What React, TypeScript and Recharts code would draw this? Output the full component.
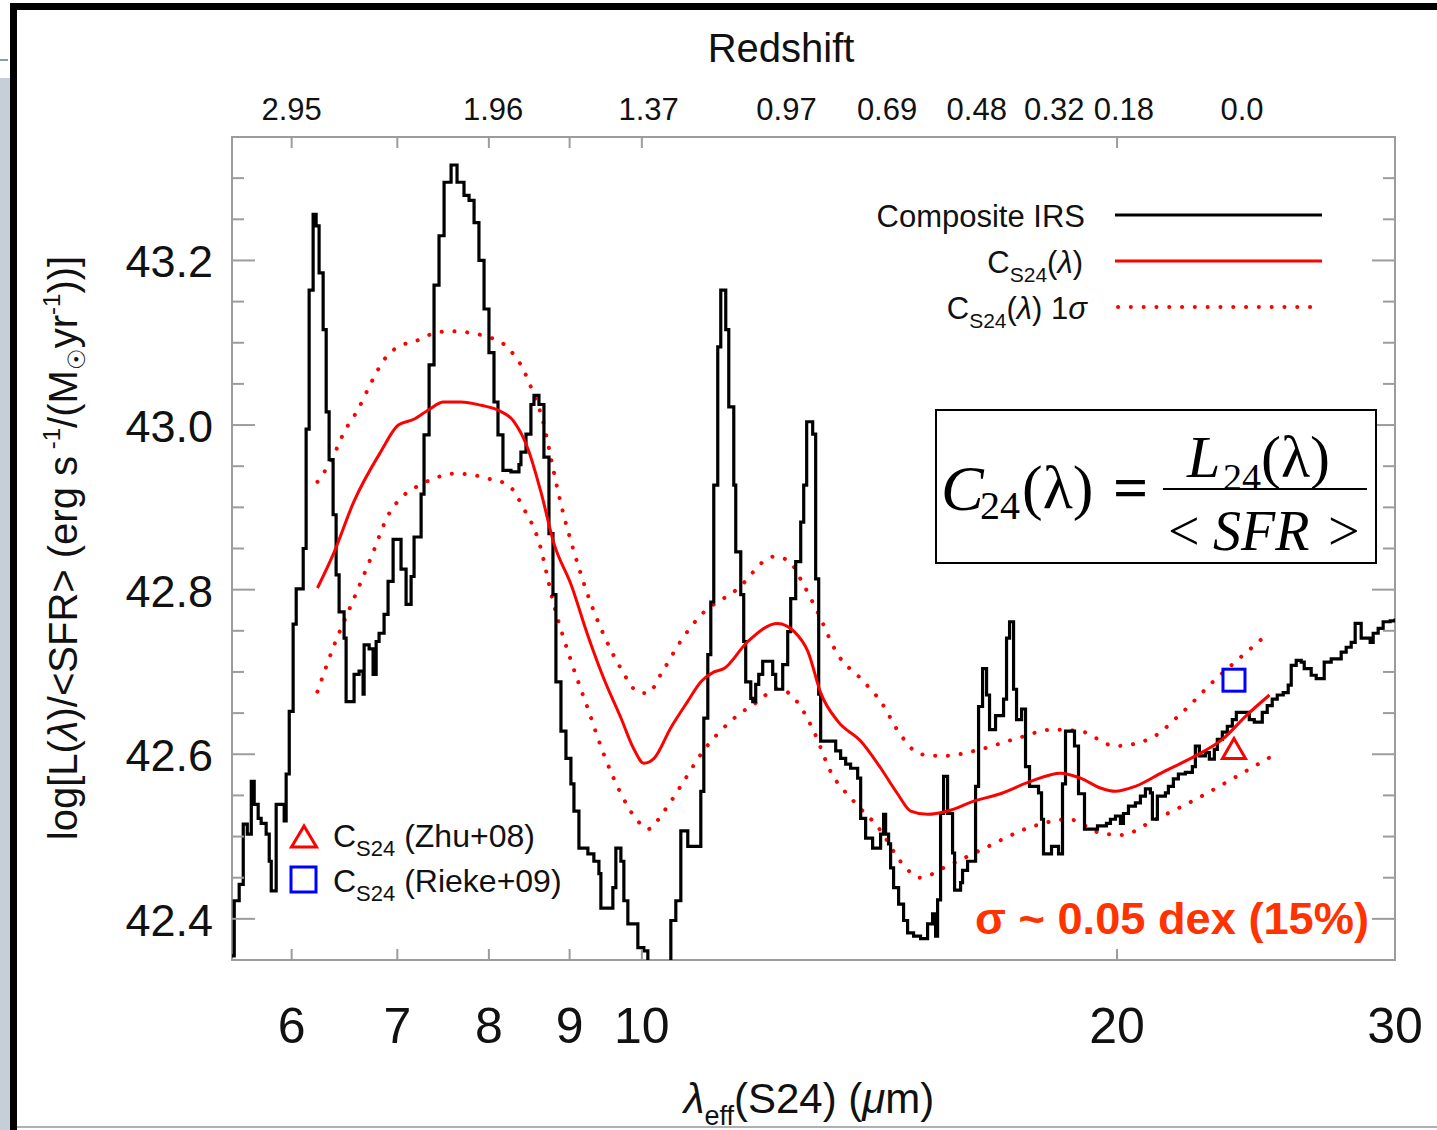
import React from 'react';
import { ComposedChart, Line, XAxis, YAxis, Scatter, ReferenceArea } from 'recharts';

// ---------- data ----------
const compositeIRS: [number, number][] = [
  [5.5, 42.355], [5.518, 42.422], [5.558, 42.442], [5.591, 42.515], [5.624, 42.503], [5.657, 42.567], [5.681, 42.539],
  [5.714, 42.522], [5.739, 42.516], [5.781, 42.503], [5.807, 42.47], [5.824, 42.434], [5.866, 42.539], [5.935, 42.519],
  [5.952, 42.576], [5.979, 42.652], [6.013, 42.758], [6.04, 42.801], [6.102, 42.85], [6.128, 42.995], [6.155, 43.164],
  [6.191, 43.256], [6.218, 43.242], [6.245, 43.185], [6.282, 43.116], [6.31, 43.016], [6.337, 42.958], [6.374, 42.891],
  [6.402, 42.818], [6.43, 42.773], [6.477, 42.741], [6.496, 42.664], [6.572, 42.697], [6.62, 42.701], [6.659, 42.673],
  [6.669, 42.733], [6.718, 42.728], [6.757, 42.697], [6.787, 42.737], [6.816, 42.747], [6.866, 42.77], [6.906, 42.81],
  [6.957, 42.861], [7.038, 42.825], [7.09, 42.782], [7.142, 42.816], [7.173, 42.864], [7.247, 42.916], [7.278, 42.988],
  [7.332, 43.073], [7.385, 43.17], [7.439, 43.23], [7.494, 43.295], [7.571, 43.316], [7.637, 43.295], [7.715, 43.279],
  [7.772, 43.273], [7.829, 43.246], [7.885, 43.2], [7.944, 43.141], [8.001, 43.088], [8.06, 43.028], [8.107, 42.988],
  [8.166, 42.945], [8.262, 42.943], [8.359, 42.952], [8.383, 42.967], [8.445, 42.989], [8.506, 43.025], [8.544, 43.036],
  [8.606, 43.025], [8.669, 42.961], [8.733, 42.868], [8.784, 42.794], [8.822, 42.688], [8.887, 42.628], [8.952, 42.595],
  [9.017, 42.564], [9.057, 42.531], [9.123, 42.486], [9.243, 42.479], [9.324, 42.47], [9.393, 42.455], [9.42, 42.413],
  [9.586, 42.438], [9.628, 42.486], [9.699, 42.47], [9.741, 42.422], [9.798, 42.394], [9.942, 42.365], [10.029, 42.361],
  [10.088, 42.337], [10.432, 42.398], [10.508, 42.422], [10.585, 42.507], [10.693, 42.488], [10.898, 42.555], [10.946, 42.644],
  [11.01, 42.721], [11.058, 42.785], [11.106, 42.927], [11.171, 43.095], [11.22, 43.164], [11.302, 43.116], [11.352, 43.022],
  [11.435, 42.927], [11.468, 42.846], [11.552, 42.794], [11.602, 42.737], [11.636, 42.688], [11.722, 42.668], [11.756, 42.664],
  [11.807, 42.685], [11.859, 42.697], [11.928, 42.713], [12.103, 42.697], [12.156, 42.679], [12.281, 42.709], [12.371, 42.749],
  [12.425, 42.789], [12.516, 42.834], [12.608, 42.882], [12.663, 42.927], [12.718, 43.004], [12.83, 42.989], [12.886, 42.813],
  [12.943, 42.673], [12.98, 42.616], [13.268, 42.604], [13.364, 42.595], [13.462, 42.588], [13.56, 42.583], [13.7, 42.571],
  [13.76, 42.522], [13.86, 42.498], [14.002, 42.486], [14.166, 42.503], [14.228, 42.527], [14.27, 42.503], [14.332, 42.491],
  [14.374, 42.462], [14.437, 42.438], [14.543, 42.418], [14.649, 42.398], [14.735, 42.383], [14.864, 42.379], [15.017, 42.376],
  [15.171, 42.394], [15.282, 42.406], [15.349, 42.379], [15.394, 42.423], [15.461, 42.528], [15.529, 42.573], [15.62, 42.528],
  [15.734, 42.48], [15.78, 42.435], [15.919, 42.444], [15.965, 42.459], [16.082, 42.47], [16.271, 42.561], [16.342, 42.658],
  [16.438, 42.704], [16.534, 42.672], [16.606, 42.63], [16.752, 42.647], [16.949, 42.667], [17.023, 42.741], [17.098, 42.761],
  [17.198, 42.679], [17.273, 42.642], [17.4, 42.655], [17.501, 42.585], [17.603, 42.561], [17.836, 42.553], [17.914, 42.521],
  [17.966, 42.479], [18.177, 42.488], [18.364, 42.479], [18.471, 42.564], [18.552, 42.628], [18.797, 42.61], [18.907, 42.552],
  [19.073, 42.509], [19.438, 42.513], [19.694, 42.516], [19.809, 42.521], [19.954, 42.525], [20.1, 42.516], [20.188, 42.528],
  [20.336, 42.537], [20.544, 42.541], [20.694, 42.549], [20.846, 42.558], [20.998, 42.553], [21.059, 42.521], [21.213, 42.549],
  [21.462, 42.553], [21.556, 42.561], [21.713, 42.57], [21.872, 42.576], [22.096, 42.578], [22.323, 42.585], [22.421, 42.61],
  [22.552, 42.598], [22.75, 42.602], [22.883, 42.594], [23.05, 42.606], [23.151, 42.618], [23.32, 42.627], [23.491, 42.634],
  [23.663, 42.642], [23.801, 42.651], [24.256, 42.642], [24.433, 42.639], [24.72, 42.651], [24.899, 42.659], [25.081, 42.667],
  [25.265, 42.672], [25.487, 42.675], [25.673, 42.684], [25.786, 42.708], [25.974, 42.714], [26.164, 42.712], [26.279, 42.704],
  [26.548, 42.696], [26.743, 42.692], [27.057, 42.712], [27.334, 42.716], [27.735, 42.724], [27.938, 42.73], [28.143, 42.736],
  [28.307, 42.759], [28.556, 42.741], [28.933, 42.736], [29.06, 42.747], [29.272, 42.753], [29.486, 42.761], [29.789, 42.762],
  [30, 42.765],
];

const cS24: [number, number][] = [
  [6.23, 42.802], [6.385, 42.846], [6.57, 42.907], [6.83, 42.967], [7.01, 43.0], [7.17, 43.007], [7.32, 43.018],
  [7.49, 43.028], [7.68, 43.028], [7.91, 43.024], [8.11, 43.018], [8.3, 43.004], [8.47, 42.971], [8.63, 42.919],
  [8.8, 42.855], [9.02, 42.806], [9.24, 42.745], [9.46, 42.692], [9.7, 42.644], [9.88, 42.607], [10.03, 42.589],
  [10.18, 42.595], [10.43, 42.632], [10.69, 42.664], [10.9, 42.688], [11.11, 42.7], [11.27, 42.704], [11.67, 42.737],
  [12.19, 42.759], [12.49, 42.749], [12.74, 42.725], [12.99, 42.673], [13.31, 42.64], [13.76, 42.616], [14.17, 42.583],
  [14.52, 42.552], [14.8, 42.531], [15.17, 42.527], [15.62, 42.531], [16.23, 42.543], [16.87, 42.552], [17.63, 42.567],
  [18.42, 42.577], [18.96, 42.571], [19.52, 42.559], [19.95, 42.555], [20.54, 42.561], [21.37, 42.578], [22.42, 42.598],
  [23.32, 42.618], [24.15, 42.647], [24.98, 42.672],
];

const cS24Upper: [number, number][] = [
  [6.23, 42.931], [6.36, 42.958], [6.48, 42.992], [6.61, 43.019], [6.74, 43.052], [6.87, 43.08], [7.04, 43.097],
  [7.17, 43.101], [7.32, 43.109], [7.54, 43.114], [7.72, 43.113], [7.99, 43.107], [8.14, 43.101], [8.26, 43.09],
  [8.41, 43.068], [8.53, 43.04], [8.67, 43.0], [8.76, 42.959], [8.85, 42.919], [8.93, 42.888], [9.02, 42.858],
  [9.24, 42.794], [9.46, 42.745], [9.7, 42.704], [9.94, 42.676], [10.09, 42.674], [10.28, 42.697], [10.58, 42.737],
  [10.85, 42.765], [11.5, 42.801], [12.12, 42.84], [12.37, 42.836], [12.66, 42.806], [12.92, 42.773], [13.31, 42.721],
  [13.76, 42.692], [14.17, 42.664], [14.58, 42.624], [15.02, 42.6], [15.53, 42.598], [16.39, 42.606], [17.2, 42.618],
  [18.23, 42.63], [18.96, 42.628], [19.95, 42.61], [20.94, 42.618], [22.0, 42.651], [23.09, 42.691], [23.89, 42.716],
  [24.98, 42.748],
];

const cS24Lower: [number, number][] = [
  [6.23, 42.676], [6.385, 42.733], [6.57, 42.789], [6.74, 42.84], [6.91, 42.891], [7.07, 42.915], [7.25, 42.928],
  [7.43, 42.937], [7.6, 42.941], [7.83, 42.939], [7.99, 42.935], [8.23, 42.927], [8.42, 42.898], [8.6, 42.86],
  [8.8, 42.78], [9.02, 42.713], [9.24, 42.656], [9.46, 42.6], [9.7, 42.552], [9.94, 42.519], [10.09, 42.509],
  [10.33, 42.531], [10.63, 42.567], [10.9, 42.6], [11.38, 42.64], [11.84, 42.664], [12.19, 42.68], [12.49, 42.668],
  [12.85, 42.628], [13.17, 42.579], [13.62, 42.543], [14.17, 42.507], [14.58, 42.47], [15.02, 42.45], [15.53, 42.462],
  [16.41, 42.484], [17.73, 42.513], [18.63, 42.521], [19.55, 42.504], [20.13, 42.502], [21.15, 42.521], [22.42, 42.545],
  [23.81, 42.573], [24.98, 42.596],
];

const zhu08: [number, number][] = [[23.72, 42.607]];
const rieke09: [number, number][] = [[23.72, 42.69]];

const xTicks = [6, 7, 8, 9, 10, 20, 30];
const yTicks = [42.4, 42.45, 42.5, 42.55, 42.6, 42.65, 42.7, 42.75, 42.8, 42.85, 42.9, 42.95, 43.0, 43.05, 43.1, 43.15, 43.2, 43.25, 43.3];
const redshiftLabels = ['2.95', '1.96', '1.37', '0.97', '0.69', '0.48', '0.32', '0.18', '0.0'];
const redshiftAt = [6.0, 8.05, 10.1, 12.35, 14.3, 16.3, 18.25, 20.2, 24.0];

// ---------- layout ----------
const W = 1437;
const H = 1130;
const PL = 232, PR = 1395, PT = 137, PB = 960;
const PW = PR - PL;
const PH = PB - PT;
const FRAME = '#9c9c9c';
const SANS = '"Liberation Sans", Arial, Helvetica, sans-serif';
const SERIF = '"Liberation Serif", "Times New Roman", serif';
const RED = '#ff0000';

const toPts = (arr: [number, number][]) => arr.map(([lam, v]) => ({ lam, v }));
const irsData = toPts(compositeIRS);
const cData = toPts(cS24);
const upData = toPts(cS24Upper);
const loData = toPts(cS24Lower);
const zhuData = toPts(zhu08);
const riekeData = toPts(rieke09);

const BottomTick = (props: any) => {
  const { x, y, payload } = props;
  return (
    <g>
      <line x1={x} y1={y} x2={x} y2={y - 11} stroke={FRAME} strokeWidth={2} />
      <line x1={x} y1={y - PH} x2={x} y2={y - PH + 11} stroke={FRAME} strokeWidth={2} />
      <text x={x} y={y + 83} textAnchor="middle" fontSize={50} fontFamily={SANS} fill="#111">
        {payload.value}
      </text>
    </g>
  );
};

const TopTick = (props: any) => {
  const { x, y, index } = props;
  return (
    <text x={x} y={y - 17} textAnchor="middle" fontSize={31} fontFamily={SANS} fill="#111">
      {redshiftLabels[index]}
    </text>
  );
};

const LeftTick = (props: any) => {
  const { x, y, payload } = props;
  const major = Math.round(payload.value * 100) % 20 === 0;
  const len = major ? 23 : 12;
  return (
    <g>
      <line x1={x} y1={y} x2={x + len} y2={y} stroke={FRAME} strokeWidth={2} />
      <line x1={x + PW} y1={y} x2={x + PW - len} y2={y} stroke={FRAME} strokeWidth={2} />
      {major && (
        <text x={x - 19} y={y + 17} textAnchor="end" fontSize={45} fontFamily={SANS} fill="#111">
          {payload.value.toFixed(1)}
        </text>
      )}
    </g>
  );
};

const TriangleMark = (props: any) => {
  const { cx, cy } = props;
  return (
    <polygon
      points={`${cx},${cy - 10} ${cx - 11.5},${cy + 10} ${cx + 11.5},${cy + 10}`}
      fill="none"
      stroke={RED}
      strokeWidth={3}
    />
  );
};

const SquareMark = (props: any) => {
  const { cx, cy } = props;
  return <rect x={cx - 11} y={cy - 11} width={22} height={22} fill="none" stroke="#0000ff" strokeWidth={3} />;
};

const Overlay = () => (
  <svg width={W} height={H} style={{ position: 'absolute', left: 0, top: 0, pointerEvents: 'none' }}>
    {/* outer frame decorations */}
    <rect x={0} y={78} width={10} height={H - 78} fill="#c6cfd7" />
    <rect x={0} y={59} width={8} height={2} fill="#8c9aa5" />
    <rect x={10} y={3} width={W - 10} height={7} fill="#000" />
    <rect x={10} y={3} width={7} height={H - 3} fill="#000" />
    <rect x={17} y={1126} width={W - 17} height={2} fill="#b0b0b0" />

    {/* top title */}
    <text x={781} y={62} textAnchor="middle" fontSize={40} fontFamily={SANS} fill="#111">Redshift</text>

    {/* y title */}
    <text transform="translate(77,548) rotate(-90)" textAnchor="middle" fontSize={40} fontFamily={SANS} fill="#111">
      log[L(<tspan fontStyle="italic">λ</tspan>)/&lt;SFR&gt; (erg s
      <tspan fontSize={24} dy={-17}> -1</tspan>
      <tspan dy={17}>/(M</tspan>
      <tspan fontSize={24} dy={8}>☉</tspan>
      <tspan dy={-8}>yr</tspan>
      <tspan fontSize={24} dy={-17}>-1</tspan>
      <tspan dy={17}>))]</tspan>
    </text>

    {/* x title */}
    <text x={809} y={1113} textAnchor="middle" fontSize={42} fontFamily={SANS} fill="#111">
      <tspan fontStyle="italic">λ</tspan>
      <tspan fontSize={27} dy={12}>eff</tspan>
      <tspan dy={-12}>(S24) (</tspan>
      <tspan fontStyle="italic">μ</tspan>
      <tspan>m)</tspan>
    </text>

    {/* top-right legend */}
    <text x={1085} y={227} textAnchor="end" fontSize={31} fontFamily={SANS} fill="#111">Composite IRS</text>
    <line x1={1115} y1={215} x2={1322} y2={215} stroke="#000" strokeWidth={3} />
    <text x={1083} y={273} textAnchor="end" fontSize={31} fontFamily={SANS} fill="#111">
      C<tspan fontSize={21} dy={9}>S24</tspan>
      <tspan dy={-9}>(</tspan>
      <tspan fontStyle="italic">λ</tspan>)
    </text>
    <line x1={1115} y1={261} x2={1322} y2={261} stroke={RED} strokeWidth={3} />
    <text x={1087} y={319} textAnchor="end" fontSize={31} fontFamily={SANS} fill="#111">
      C<tspan fontSize={21} dy={9}>S24</tspan>
      <tspan dy={-9}>(</tspan>
      <tspan fontStyle="italic">λ</tspan>) 1<tspan fontStyle="italic">σ</tspan>
    </text>
    <line x1={1118} y1={307} x2={1322} y2={307} stroke={RED} strokeWidth={4} strokeDasharray="0.1 12.7" strokeLinecap="round" />

    {/* formula box */}
    <rect x={936} y={410} width={440} height={153} fill="#fff" stroke="#000" strokeWidth={2} />
    <text x={941} y={510} fontSize={64} fontFamily={SERIF} fontStyle="italic" fill="#000">C</text>
    <text x={980} y={519} fontSize={40} fontFamily={SERIF} fill="#000">24</text>
    <text x={1022} y={508} fontSize={62} fontFamily={SERIF} fill="#000">(λ)</text>
    <text x={1113} y={508} fontSize={62} fontFamily={SERIF} fontWeight="bold" fill="#000">=</text>
    <line x1={1163} y1={489} x2={1367} y2={489} stroke="#000" strokeWidth={2} />
    <text x={1187} y={477} fontSize={60} fontFamily={SERIF} fontStyle="italic" fill="#000">L</text>
    <text x={1223} y={490} fontSize={38} fontFamily={SERIF} fill="#000">24</text>
    <text x={1261} y={477} fontSize={60} fontFamily={SERIF} fill="#000">(λ)</text>
    <text x={1168} y={550} fontSize={56} fontFamily={SERIF} fill="#000">&lt;</text>
    <text x={1213} y={550} fontSize={56} fontFamily={SERIF} fontStyle="italic" fill="#000">SFR</text>
    <text x={1328} y={550} fontSize={56} fontFamily={SERIF} fill="#000">&gt;</text>

    {/* bottom-left legend */}
    <polygon points="304,826 291.5,847 316.5,847" fill="none" stroke={RED} strokeWidth={3} />
    <text x={333} y={847} fontSize={32} fontFamily={SANS} fill="#111">
      C<tspan fontSize={22} dy={9}>S24</tspan>
      <tspan dy={-9}> (Zhu+08)</tspan>
    </text>
    <rect x={291} y={867} width={25} height={25} fill="none" stroke="#0000ff" strokeWidth={3} />
    <text x={333} y={892} fontSize={32} fontFamily={SANS} fill="#111">
      C<tspan fontSize={22} dy={9}>S24</tspan>
      <tspan dy={-9}> (Rieke+09)</tspan>
    </text>

    {/* sigma annotation */}
    <text x={975} y={934} fontSize={44} fontFamily={SANS} fontWeight="bold" fill="#ff3300" textLength={394} lengthAdjust="spacingAndGlyphs">
      σ ~ 0.05 dex (15%)
    </text>
  </svg>
);

export default function App() {
  return (
    <div style={{ position: 'absolute', left: 0, top: 0, width: W, height: H, background: '#fff' }}>
      <ComposedChart width={W} height={H} margin={{ top: PT - 30, right: W - PR, bottom: H - PB - 30, left: PL - 60 }}>
        <XAxis
          xAxisId="b"
          dataKey="lam"
          type="number"
          scale="log"
          domain={[5.5, 30]}
          allowDataOverflow
          ticks={xTicks}
          interval={0}
          height={30}
          tickSize={0}
          tickMargin={0}
          axisLine={false}
          tickLine={false}
          tick={<BottomTick />}
        />
        <XAxis
          xAxisId="t"
          orientation="top"
          dataKey="lam"
          type="number"
          scale="log"
          domain={[5.5, 30]}
          allowDataOverflow
          ticks={redshiftAt}
          interval={0}
          height={30}
          tickSize={0}
          tickMargin={0}
          axisLine={false}
          tickLine={false}
          tick={<TopTick />}
        />
        <YAxis
          dataKey="v"
          type="number"
          domain={[42.35, 43.35]}
          allowDataOverflow
          ticks={yTicks}
          interval={0}
          width={60}
          tickSize={0}
          tickMargin={0}
          axisLine={false}
          tickLine={false}
          tick={<LeftTick />}
        />
        <ReferenceArea xAxisId="b" x1={5.5} x2={30} y1={42.35} y2={43.35} fill="none" stroke={FRAME} strokeWidth={2} />
        <Line
          xAxisId="b"
          data={upData}
          dataKey="v"
          type="monotone"
          stroke={RED}
          strokeWidth={4}
          strokeDasharray="0.1 12.7"
          strokeLinecap="round"
          dot={false}
          activeDot={false}
          isAnimationActive={false}
        />
        <Line
          xAxisId="b"
          data={loData}
          dataKey="v"
          type="monotone"
          stroke={RED}
          strokeWidth={4}
          strokeDasharray="0.1 12.7"
          strokeLinecap="round"
          dot={false}
          activeDot={false}
          isAnimationActive={false}
        />
        <Line
          xAxisId="b"
          data={irsData}
          dataKey="v"
          type="stepAfter"
          stroke="#000"
          strokeWidth={3.2}
          dot={false}
          activeDot={false}
          isAnimationActive={false}
        />
        <Line
          xAxisId="b"
          data={cData}
          dataKey="v"
          type="monotone"
          stroke={RED}
          strokeWidth={3}
          dot={false}
          activeDot={false}
          isAnimationActive={false}
        />
        <Scatter xAxisId="b" data={zhuData} dataKey="v" shape={TriangleMark} isAnimationActive={false} />
        <Scatter xAxisId="b" data={riekeData} dataKey="v" shape={SquareMark} isAnimationActive={false} />
      </ComposedChart>
      <Overlay />
    </div>
  );
}
